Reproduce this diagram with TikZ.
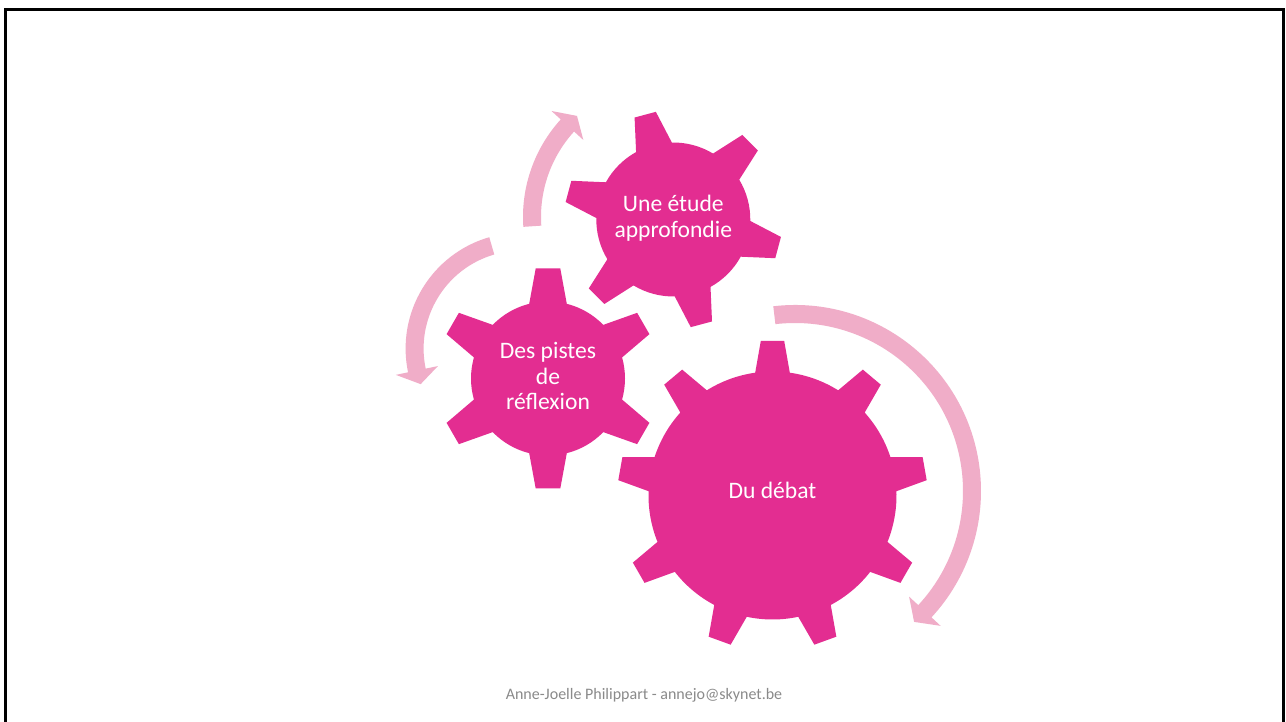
\documentclass[tikz,border=0pt]{standalone}
\usepackage{fontspec}
\setmainfont{Carlito}
\usetikzlibrary{calc}
\definecolor{gearpink}{HTML}{E32D91}
\definecolor{arrowpink}{HTML}{F0ADC8}
\definecolor{footgray}{HTML}{8A8A8A}
\tikzset{
  geartext/.style={text=white, align=center, inner sep=0pt, font=\fontsize{23.6}{25.8}\selectfont},
  footer/.style={text=footgray, inner sep=0pt, font=\fontsize{16}{19}\selectfont},
  gearfill/.style={fill=gearpink},
  arrowfill/.style={fill=arrowpink},
  framestyle/.style={line width=2.8pt, line join=miter},
}
% #1 cx, #2 cy, #3 teeth, #4 start angle, #5 body R, #6 tip R, #7 base half-width, #8 tip half-width
\newcommand\drawgear[8]{%
  \pgfmathsetmacro\gdb{asin(#7/#5)}%
  \pgfmathsetmacro\gstep{360/#3}%
  \pgfmathtruncatemacro\glast{#3-1}%
  \fill[gearfill] ($(#1,#2)+(#4-\gdb:#5pt)$)
    \foreach \gi [evaluate=\gi as \ga using #4+\gi*\gstep] in {0,...,\glast} {
      -- ($(#1,#2)+(\ga:#6pt)+(\ga-90:#8pt)$)
      -- ($(#1,#2)+(\ga:#6pt)+(\ga+90:#8pt)$)
      -- ($(#1,#2)+(\ga+\gdb:#5pt)$)
      arc[start angle=\ga+\gdb, end angle=\ga+\gstep-\gdb, radius=#5pt]
    } -- cycle;
}
% #1 cx, #2 cy, #3 r, #4 start angle, #5 head base angle, #6 tip angle
\newcommand\circarrow[6]{%
  \pgfmathsetmacro\aro{#3+9}%
  \pgfmathsetmacro\ari{#3-9}%
  \pgfmathsetmacro\awo{#3+21.5}%
  \pgfmathsetmacro\awi{#3-21.5}%
  \fill[arrowfill] ($(#1,#2)+(#4:\aro pt)$)
    arc[start angle=#4, end angle=#5, radius=\aro pt]
    -- ($(#1,#2)+(#5:\awo pt)$)
    -- ($(#1,#2)+(#6:#3pt)$)
    -- ($(#1,#2)+(#5:\awi pt)$)
    -- ($(#1,#2)+(#5:\ari pt)$)
    arc[start angle=#5, end angle=#4, radius=\ari pt]
    -- cycle;
}
\begin{document}
\begin{tikzpicture}[x=1pt, y=1pt]
  \useasboundingbox (0,0) rectangle (1286,722);
  \fill[white] (0,0) rectangle (1286,722);
  % frame
  \coordinate (fbl) at (5.5,-3);
  \coordinate (ftl) at (5.5,712.7);
  \coordinate (ftr) at (1283.5,712.7);
  \coordinate (fbr) at (1283.5,-3);
  \draw[framestyle] (fbl) -- (ftl) -- (ftr) -- (fbr);
  % circular arrows
  \circarrow{668}{505}{136}{183.9}{137.7}{132}
  \circarrow{521.6}{373.4}{107}{106.2}{191.8}{199.4}
  \circarrow{795}{231}{177}{96.7}{-42.8}{-47.7}
  % gears
  \drawgear{673.3}{502.5}{6}{105}{77}{108.5}{18.5}{11}
  \drawgear{548}{343.5}{6}{90}{77}{110}{18.8}{12.3}
  \drawgear{772.5}{226.5}{9}{90}{124}{154.5}{17.3}{11.7}
  % texts
  \node[geartext] (etude) at (673.3,503.8) {Une étude\\approfondie};
  \node[geartext] (pistes) at (548,345.9) {Des pistes\\de\\réflexion};
  \node[geartext, anchor=base] (debat) at (772.5,223.7) {Du débat};
  \node[footer, anchor=base] (auteur) at (644,22) {Anne-Joelle Philippart - annejo@skynet.be};
\end{tikzpicture}
\end{document}
